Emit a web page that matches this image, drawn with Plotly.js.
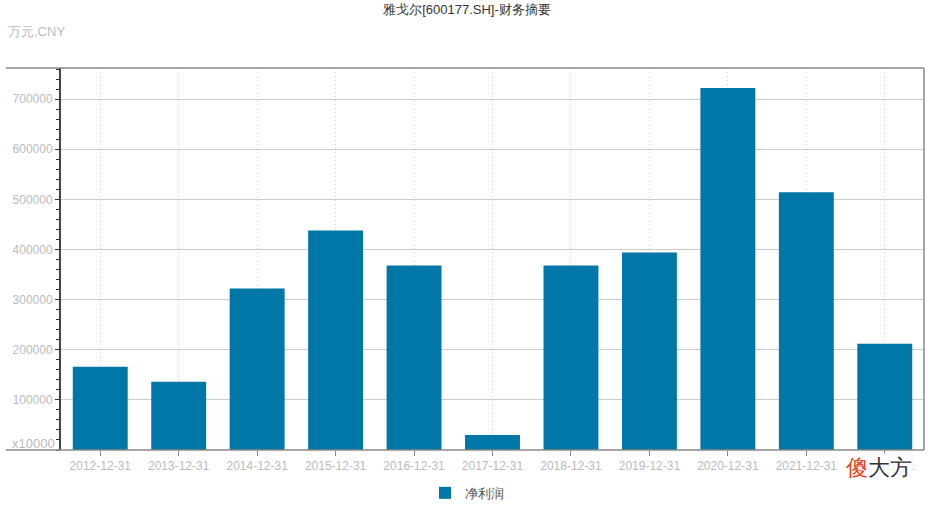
<!DOCTYPE html>
<html><head><meta charset="utf-8">
<script src="https://cdn.plot.ly/plotly-3.0.1.min.js"></script>
<style>body{margin:0;background:#fff}#c{width:934px;height:505px}</style>
</head><body><div id="c"></div>
<script>
const categories = ["2012-12-31","2013-12-31","2014-12-31","2015-12-31","2016-12-31","2017-12-31","2018-12-31","2019-12-31","2020-12-31","2021-12-31","2022-12-31"];
const netProfit = [166000,136000,322000,438000,368000,30000,368000,394000,722000,514000,212000];
const seriesName = "净利润";
const yTickVals = [100000,200000,300000,400000,500000,600000,700000];

const font = "Helvetica, 'Liberation Sans', Arial, sans-serif";
const trace = {
  type: "bar", x: categories, y: netProfit, name: seriesName,
  marker: {color: "#0077a6"}, hoverinfo: "x+y"
};
const layout = {
  width: 934, height: 505,
  margin: {l: 61, r: 10, t: 68, b: 55},
  paper_bgcolor: "#fff", plot_bgcolor: "#fff",
  font: {family: font, size: 12, color: "#bbb"},
  title: {text: "雅戈尔[600177.SH]-财务摘要", x: 0.5, xanchor: "center", y: 0.982, yanchor: "middle",
          font: {family: font, size: 13, color: "#333"}},
  bargap: 0.3,
  showlegend: true,
  legend: {orientation: "h", x: 0.5, xanchor: "center", xref: "container", yref: "container", y: 0.024, yanchor: "middle",
           font: {size: 13, color: "#555"}},
  xaxis: {
    type: "category", showgrid: true, gridcolor: "#ccc", griddash: "1px,3px", gridwidth: 1,
    ticks: "outside", ticklen: 5, tickcolor: "#888", showline: false, zeroline: false,
    tickfont: {size: 12, color: "#bbb"}, automargin: false
  },
  yaxis: {
    range: [0, 762000], tickvals: yTickVals, ticktext: yTickVals.map(String),
    showgrid: true, gridcolor: "#ccc", gridwidth: 1, zeroline: false,
    showline: true, linecolor: "#444", linewidth: 2,
    ticks: "outside", ticklen: 4, tickcolor: "#333",
    minor: {dtick: 20000, tick0: 0, ticks: "outside", ticklen: 3, tickcolor: "#333", showgrid: false},
    tickfont: {size: 12, color: "#bbb"}, automargin: false
  },
  shapes: [
    {type: "line", xref: "paper", yref: "paper", x0: -0.064, x1: 1, y0: 1, y1: 1, line: {color: "#888", width: 1.5}},
    {type: "line", xref: "paper", yref: "paper", x0: -0.064, x1: 1, y0: 0, y1: 0, line: {color: "#888", width: 1.5}},
    {type: "line", xref: "paper", yref: "paper", x0: 1, x1: 1, y0: 0, y1: 1, line: {color: "#888", width: 1.5}}
  ],
  annotations: [
    {text: "万元,CNY", xref: "paper", yref: "paper", x: -0.064, xanchor: "left", y: 1.095, yanchor: "middle",
     showarrow: false, font: {size: 13, color: "#bbb"}},
    {text: "x10000", xref: "paper", yref: "paper", x: -0.005, xanchor: "right", y: 0, yanchor: "bottom",
     showarrow: false, font: {size: 13, color: "#bbb"}, yshift: -3},
    {text: "<span style='color:#e8401c'>傻</span>大方", xref: "paper", yref: "paper", x: 0.988, xanchor: "right",
     y: -0.045, yanchor: "middle", showarrow: false, font: {size: 22, color: "#333"}, bgcolor: "rgba(255,255,255,0.85)"}
  ]
};
Plotly.newPlot("c", [trace], layout, {displayModeBar: false, responsive: false});
</script></body></html>
